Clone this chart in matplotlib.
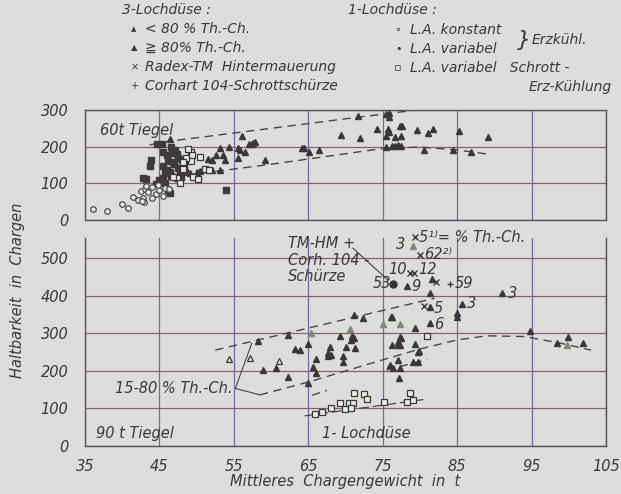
import matplotlib.pyplot as plt

# ---- data ----
# upper panel: 60 t Tiegel
up_tri_x = [46.4, 56.1, 53.1, 54.4, 55.6, 55.8, 56.5, 57.8, 57.4, 51.5, 52.0, 52.6, 53.5, 53.8, 55.6,
            53.1, 52.0, 50.0, 50.4, 49.1, 71.7, 75.5, 75.8, 75.9, 69.4, 72.0, 74.2, 75.7, 75.9, 77.3,
            77.6, 75.5, 76.6, 77.4, 79.6, 81.1, 81.7, 75.4, 76.3, 76.6, 77.1, 77.5, 80.6, 64.1, 64.4,
            65.1, 66.5, 59.2, 57.1, 57.6, 85.2, 89.1, 84.5, 86.9]
up_tri_y = [222, 230, 195, 199, 196, 190, 186, 213, 208, 166, 164, 177, 177, 164, 168,
            136, 136, 131, 133, 127, 284, 289, 291, 280, 232, 223, 247, 247, 239, 257,
            257, 229, 227, 229, 245, 238, 247, 199, 201, 201, 204, 201, 192, 195, 195,
            186, 191, 164, 208, 210, 242, 225, 191, 186]
up_dot_x = [44.7, 45.3, 46.6, 47.1, 46.7, 45.5, 46.0, 47.5, 48.0, 46.8, 43.9, 43.7, 45.5, 46.0, 46.4,
            45.7, 42.8, 43.2, 45.0, 45.5, 46.2, 46.4, 54.0, 47.0, 47.5, 46.5, 47.8, 48.5, 45.8, 44.5,
            47.3, 46.2, 48.3, 47.9]
up_dot_y = [208, 208, 200, 191, 182, 186, 177, 168, 164, 159, 164, 148, 146, 136, 131,
            127, 114, 112, 109, 114, 81, 74, 81, 153, 143, 120, 127, 132, 102, 97,
            180, 160, 150, 118]
up_sq_x = [49.3, 49.4, 49.3, 48.6, 48.2, 48.2, 49.5, 51.1, 47.3, 47.7, 46.8, 50.5, 48.9, 50.2, 51.6]
up_sq_y = [186, 177, 161, 168, 159, 140, 118, 138, 114, 100, 116, 173, 193, 112, 136]
up_circ_x = [36.1, 37.9, 40.0, 40.8, 41.5, 42.1, 42.8, 42.9, 42.6, 42.5, 43.0, 43.5, 44.0, 44.5,
             45.0, 45.5, 44.0, 43.2, 45.8, 44.8, 46.3]
up_circ_y = [30, 25, 44, 33, 63, 55, 60, 50, 53, 80, 85, 75, 90, 70, 82, 65, 60, 92, 88, 96, 85]
up_hi_x = [43.7, 46.0, 60.0, 70.0, 79.5]          # upper dashed boundary
up_hi_y = [205, 214, 250, 276, 300]
up_lo_x = [47.0, 60.0, 75.0, 80.0, 85.0, 89.0]     # lower dashed boundary
up_lo_y = [118, 152, 195, 199, 191, 180]

# lower panel: 90 t Tiegel
lo_tri_x = [58.3, 58.9, 60.6, 62.3, 63.2, 63.9, 64.9, 62.3, 66.0, 65.6, 66.1, 65.0, 67.7, 68.1, 67.9,
            69.7, 69.7, 70.1, 71.3, 67.7, 71.2, 72.4, 76.1, 70.9, 70.8, 71.1, 69.2, 76.2, 77.1, 77.3,
            79.3, 79.8, 76.0, 76.4, 77.1, 77.3, 79.1, 79.8, 77.2, 76.2, 77.3, 77.5, 77.1, 79.3,
            79.9, 85.0, 85.0, 85.6, 81.3, 81.3, 81.3, 78.2, 81.6, 91.0, 94.8, 98.4, 99.9, 101.9]
lo_tri_y = [280, 202, 207, 184, 258, 255, 272, 295, 231, 211, 193, 167, 247, 242, 264,
            238, 224, 264, 260, 239, 348, 340, 342, 293, 282, 286, 293, 269, 277, 269,
            271, 251, 215, 207, 229, 207, 224, 222, 180, 342, 291, 286, 269, 313,
            253, 342, 353, 378, 326, 369, 406, 426, 443, 406, 307, 273, 289, 273]
lo_lt_x = [75.1, 77.3, 99.7, 79.1, 65.4, 70.6]
lo_lt_y = [324, 324, 269, 532, 300, 310]
lo_open_tri_x = [54.4, 57.2, 61.1]
lo_open_tri_y = [231, 233, 227]
lo_x_x = [80.0, 78.7, 79.2, 82.2, 80.5, 79.3]
lo_x_y = [508, 459, 459, 437, 372, 555]
lo_plus_x = [84.0]
lo_plus_y = [431]
lo_dot_x = [76.4]
lo_dot_y = [431]
lo_sq_x = [65.9, 66.9, 68.1, 69.2, 70.0, 70.5, 71.0, 70.7, 71.1, 72.5, 72.9, 75.2, 78.3, 78.7, 79.1, 80.9]
lo_sq_y = [84, 91, 100, 115, 98, 115, 115, 102, 142, 137, 124, 118, 118, 140, 122, 293]
lo_hi_x = [52.5, 82.0]                               # 15-80 % upper boundary
lo_hi_y = [255, 393]
lo_lo_x = [58.5, 65.0, 75.5, 80.0, 85.0, 89.0, 94.0, 98.5, 103.0]
lo_lo_y = [136, 170, 232, 258, 282, 293, 291, 275, 255]
lo_mid1_x = [65.5, 67.5]
lo_mid1_y = [135, 148]
lo_mid2_x = [75.5, 81.0]
lo_mid2_y = [202, 230]
lo_one_x = [64.5, 81.0]                              # 1-Lochduese line
lo_one_y = [80, 125]

xticks = [35, 45, 55, 65, 75, 85, 95, 105]
up_yticks = [0, 100, 200, 300]
lo_yticks = [0, 100, 200, 300, 400, 500]

# ---- style ----
bg = '#dcdedb'
ink = '#3b3738'
hgrid = '#8a5f6c'
vgrid = '#6d6da6'
dash_col = '#5a3a42'
plt.rcParams['font.family'] = ['DejaVu Sans']
plt.rcParams['font.style'] = 'italic'
plt.rcParams['text.color'] = ink

fig = plt.figure(figsize=(6.21, 4.94), dpi=100, facecolor=bg)
W, H = 621.0, 494.0
ax1 = fig.add_axes([85 / W, 1 - 220 / H, 521 / W, 110 / H], facecolor=bg)
ax2 = fig.add_axes([85 / W, 1 - 446 / H, 521 / W, 208 / H], facecolor=bg)


def style(ax, yticks, ylim):
    ax.set_xlim(35, 105)
    ax.set_ylim(*ylim)
    ax.set_xticks(xticks)
    ax.set_yticks(yticks)
    ax.yaxis.grid(True, color=hgrid, lw=0.9)
    ax.xaxis.grid(True, color=vgrid, lw=0.9)
    ax.set_axisbelow(True)
    for s in ax.spines.values():
        s.set_color('#5d4a5a')
        s.set_linewidth(1.0)
    ax.tick_params(length=0, labelsize=10.5, colors=ink, pad=12)


style(ax1, up_yticks, (0, 300))
ax1.set_xticklabels([])
style(ax2, lo_yticks, (0, 553))
ax2.spines['top'].set_visible(False)
ax2.tick_params(axis='x', pad=9)

dash = dict(color=dash_col, lw=1.0, dashes=(6, 4))
ms = dict(linestyle='none')

# upper panel
ax1.plot(up_hi_x, up_hi_y, **dash)
ax1.plot(up_lo_x, up_lo_y, **dash)
ax1.plot(up_tri_x, up_tri_y, marker='^', ms=5, color=ink, **ms)
ax1.plot(up_dot_x, up_dot_y, marker='s', ms=4.5, color='#403a3b', **ms)
ax1.plot(up_sq_x, up_sq_y, marker='s', ms=4, mfc='#e8ece4', mec=ink, mew=0.9, **ms)
ax1.plot(up_circ_x, up_circ_y, marker='o', ms=4, mfc='#e4e8e0', mec='#4a4a55', mew=0.9, **ms)
ax1.text(37.0, 243, '60t Tiegel', fontsize=10.5, va='center', ha='left')

# lower panel
ax2.plot(lo_hi_x, lo_hi_y, **dash)
ax2.plot(lo_lo_x, lo_lo_y, **dash)
ax2.plot(lo_mid1_x, lo_mid1_y, **dash)
ax2.plot(lo_mid2_x, lo_mid2_y, **dash)
ax2.plot(lo_one_x, lo_one_y, color=dash_col, lw=0.9, dashes=(8, 3))
ax2.plot(lo_tri_x, lo_tri_y, marker='^', ms=5, color=ink, **ms)
ax2.plot(lo_lt_x, lo_lt_y, marker='^', ms=5, color='#7c8a78', **ms)
ax2.plot(lo_open_tri_x, lo_open_tri_y, marker='^', ms=5, mfc='none', mec=ink, mew=0.9, **ms)
ax2.plot(lo_x_x, lo_x_y, marker='x', ms=4, color=ink, mew=1.0, **ms, clip_on=False)
ax2.plot(lo_plus_x, lo_plus_y, marker='+', ms=5, color=ink, mew=1.0, **ms)
ax2.plot(lo_dot_x, lo_dot_y, marker='o', ms=5, color='#333', **ms)
ax2.plot(lo_sq_x, lo_sq_y, marker='s', ms=4, mfc='#e8ece4', mec=ink, mew=0.9, **ms)

# leader lines
ax2.plot([57.4, 55.2, 58.5], [273, 153, 136], color=dash_col, lw=0.8)
ax2.plot([71.0, 75.7], [526, 441], color=dash_col, lw=0.8)

fs = 10.5
ax2.text(54.8, 152, '15-80 % Th.-Ch.', fontsize=fs, ha='right', va='center')
ax2.text(62.3, 538, 'TM-HM +', fontsize=fs, va='center')
ax2.text(62.3, 494, 'Corh. 104 -', fontsize=fs, va='center')
ax2.text(62.3, 450, 'Schürze', fontsize=fs, va='center')
ax2.text(76.2, 431, '53', fontsize=fs, ha='right', va='center')
ax2.text(78.0, 536, '3', fontsize=fs, ha='right', va='center')
ax2.text(79.9, 555, '5¹⁾= % Th.-Ch.', fontsize=fs, va='center', clip_on=False)
ax2.text(80.6, 508, '62²⁾', fontsize=fs, va='center')
ax2.text(78.3, 468, '10', fontsize=fs, ha='right', va='center')
ax2.text(79.8, 470, '12', fontsize=fs, va='center')
ax2.text(84.7, 431, '59', fontsize=fs, va='center')
ax2.text(78.8, 423, '9', fontsize=fs, va='center')
ax2.text(91.8, 406, '3', fontsize=fs, va='center')
ax2.text(86.3, 378, '3', fontsize=fs, va='center')
ax2.text(81.9, 365, '5', fontsize=fs, va='center')
ax2.text(81.9, 322, '6', fontsize=fs, va='center')
ax2.text(36.5, 33, '90 t Tiegel', fontsize=fs, va='center')
ax2.text(66.8, 32, '1- Lochdüse', fontsize=fs, va='center')


# header key
def ft(x, y, s, fontsize=10, **kw):
    fig.text(x / W, 1 - y / H, s, va='center', fontsize=fontsize, **kw)


ft(122, 10, '3-Lochdüse :')
ft(131, 29, '▲', fontsize=5)
ft(145, 29, '< 80 % Th.-Ch.')
ft(131, 48, '▲', fontsize=6)
ft(145, 48, '≧ 80% Th.-Ch.')
ft(131, 67, '×', fontsize=7)
ft(145, 67, 'Radex-TM  Hintermauerung')
ft(131, 86, '+', fontsize=7)
ft(145, 86, 'Corhart 104-Schrottschürze')
ft(348, 10, '1-Lochdüse :')
ft(394, 30, '∘', fontsize=8)
ft(410, 30, 'L.A. konstant')
ft(395, 49, '•', fontsize=8)
ft(410, 49, 'L.A. variabel')
ft(517, 40, '}', fontsize=16)
ft(532, 40, 'Erzkühl.')
ft(394, 68, '▫', fontsize=8)
ft(410, 68, 'L.A. variabel   Schrott -')
ft(612, 87, 'Erz-Kühlung', ha='right')

ft(18, 290, 'Haltbarkeit  in  Chargen', rotation=90, ha='center', fontsize=10.5)
ft(345, 481, 'Mittleres  Chargengewicht  in  t', ha='center', fontsize=10.5)

fig.savefig('out.png', dpi=100, facecolor=bg)
